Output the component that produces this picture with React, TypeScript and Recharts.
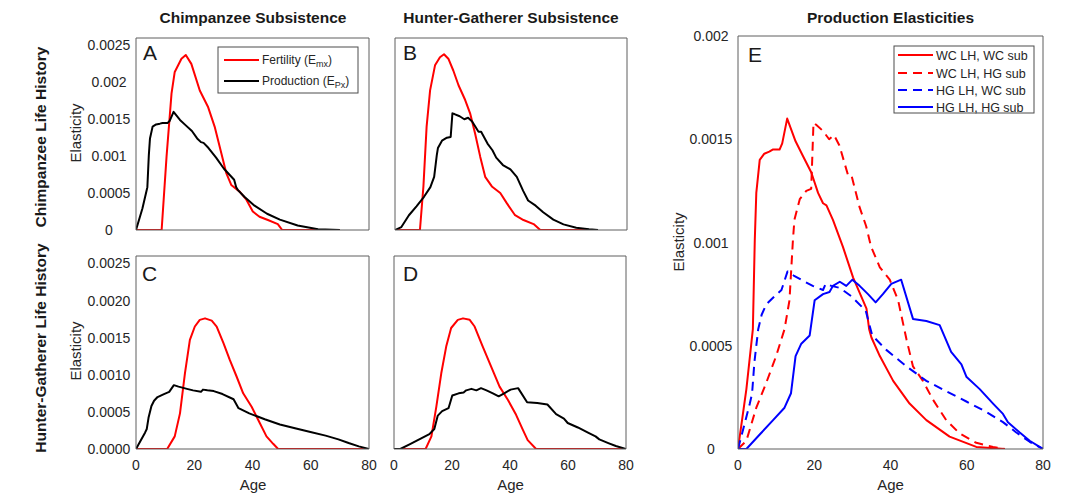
import React from 'react';
import { LineChart, Line, XAxis, YAxis } from 'recharts';

const FONT = '"Liberation Sans", Arial, Helvetica, sans-serif';
const AXIS_COLOR = '#5f5f5f';
const TEXT_COLOR = '#262626';
const RED = '#ff0000';
const BLUE = '#0000ff';
const BLACK = '#000000';

// ---------- tick values & labels ----------
const ageTicks = [0, 20, 40, 60, 80];
const ageTickLabels = ['0', '20', '40', '60', '80'];
const smallYTicks = [0, 0.0005, 0.001, 0.0015, 0.002, 0.0025];
const chimpRowYLabels = ['0', '0.0005', '0.001', '0.0015', '0.002', '0.0025'];
const hgRowYLabels = ['0.0000', '0.0005', '0.0010', '0.0015', '0.0020', '0.0025'];
const bigYTicks = [0, 0.0005, 0.001, 0.0015, 0.002];
const bigYLabels = ['0', '0.0005', '0.001', '0.0015', '0.002'];

// ---------- fertility elasticities (E_mx) ----------
// Chimpanzee life history, chimpanzee subsistence (A)
const fertChimpChimpAge = [0, 8.8, 10.5, 12.2, 13.3, 15.6, 17.1, 19.0, 21.9, 24.7, 27.0, 29.3, 31.0, 32.7, 35.6, 37.9, 40.1, 42.4, 45.3, 48.7, 50.2, 70];
const fertChimpChimpVal = [0, 0, 0.001, 0.00185, 0.00214, 0.00232, 0.00237, 0.00225, 0.00189, 0.00167, 0.0014, 0.00104, 0.00077, 0.00061, 0.00052, 0.00041, 0.00025, 0.00018, 0.000135, 0.00008, 0, 0];
// Chimpanzee life history, hunter-gatherer subsistence (B)
const fertChimpHgAge = [0, 8.6, 9.8, 10.9, 12.1, 13.8, 15.5, 16.9, 18.4, 20.1, 21.9, 24.2, 25.9, 27.6, 29.4, 31.1, 33.4, 36.3, 38.6, 41.4, 44.3, 47.8, 50.1, 70];
const fertChimpHgVal = [0, 0, 0.00059, 0.0014, 0.00189, 0.00223, 0.00234, 0.00238, 0.00232, 0.00216, 0.00196, 0.00176, 0.00158, 0.00131, 0.00099, 0.00072, 0.00059, 0.0005, 0.00036, 0.0002, 0.000135, 0.00008, 0, 0];
// Hunter-gatherer life history, chimpanzee subsistence (C)
const fertHgChimpAge = [0, 10.7, 13.3, 15.1, 16.8, 18.5, 20.2, 21.9, 23.7, 26.0, 27.7, 30.0, 32.2, 34.5, 36.8, 39.7, 42.5, 44.8, 47.1, 48.8, 80];
const fertHgChimpVal = [0, 0, 0.00017, 0.00048, 0.00102, 0.00147, 0.00165, 0.00174, 0.00176, 0.00173, 0.00165, 0.00143, 0.0012, 0.00098, 0.00075, 0.00057, 0.00035, 0.00017, 0.00007, 0, 0];
// Hunter-gatherer life history, hunter-gatherer subsistence (D)
const fertHgHgAge = [0, 10.9, 12.9, 14.6, 16.3, 18.0, 19.7, 22.0, 23.8, 26.1, 27.8, 30.6, 33.5, 36.4, 39.3, 42.1, 44.4, 46.1, 49.0, 80];
const fertHgHgVal = [0, 0, 0.00017, 0.00057, 0.00102, 0.00138, 0.00163, 0.00174, 0.00176, 0.00174, 0.00165, 0.00138, 0.00111, 0.00084, 0.00066, 0.00046, 0.00026, 0.00012, 0, 0];

// ---------- production elasticities (E_Px) ----------
// WC LH, WC sub
const prodChimpChimpAge = [0, 2.2, 3.9, 4.4, 4.8, 5.7, 6.9, 8.2, 9.1, 10.9, 11.6, 12.9, 15.1, 17.0, 19.2, 21.0, 22.3, 23.2, 24.9, 27.5, 30.2, 33.7, 34.4, 35.0, 37.2, 40.7, 45.0, 49.4, 55.5, 62.5, 70];
const prodChimpChimpVal = [0, 0.00029, 0.00058, 0.00101, 0.00124, 0.0014, 0.00143, 0.00144, 0.00145, 0.00145, 0.00148, 0.0016, 0.00149, 0.00142, 0.00134, 0.00124, 0.00119, 0.00118, 0.00111, 0.00098, 0.00083, 0.00068, 0.00058, 0.00054, 0.00045, 0.00033, 0.00022, 0.00014, 0.00006, 0.00001, 0];
// WC LH, HG sub
const prodChimpHgAge = [0, 2.2, 4.8, 7.4, 10.0, 12.2, 13.5, 14.4, 14.8, 16.2, 17.9, 19.2, 19.8, 20.5, 22.3, 23.9, 25.2, 26.6, 28.8, 29.7, 31.9, 33.6, 34.9, 37.2, 39.8, 42.0, 44.2, 45.9, 48.5, 51.1, 54.6, 58.1, 62.5, 66.9, 70];
const prodChimpHgVal = [0, 0.00004, 0.0002, 0.00032, 0.00045, 0.00058, 0.00072, 0.00101, 0.00111, 0.00121, 0.00125, 0.00126, 0.00158, 0.00157, 0.00154, 0.0015, 0.00152, 0.00147, 0.00133, 0.00133, 0.00117, 0.00108, 0.00098, 0.00088, 0.00082, 0.00072, 0.00053, 0.0004, 0.00033, 0.00024, 0.00014, 0.000076, 0.00003, 0.00001, 0];
// HG LH, WC sub
const prodHgChimpAge = [0, 1.0, 3.1, 3.7, 4.3, 5.3, 6.2, 7.4, 9.6, 11.4, 13.0, 14.6, 17.5, 19.6, 22.3, 23.0, 24.5, 26.7, 29.7, 33.5, 35.2, 38.9, 44.2, 49.4, 54.6, 59.9, 65.1, 69.5, 73.0, 76.5, 80];
const prodHgChimpVal = [0, 0.00007, 0.00022, 0.00027, 0.00042, 0.00058, 0.00065, 0.0007, 0.00074, 0.00077, 0.00086, 0.00084, 0.00081, 0.00079, 0.00077, 0.0008, 0.00079, 0.00078, 0.00074, 0.00067, 0.00055, 0.00048, 0.0004, 0.00033, 0.00028, 0.00023, 0.00018, 0.00013, 0.00008, 0.000035, 0];
// HG LH, HG sub
const prodHgHgAge = [0, 2.2, 5.7, 9.2, 12.2, 13.9, 15.1, 16.6, 18.8, 20.1, 22.3, 24.0, 24.9, 26.7, 28.4, 30.0, 31.9, 34.1, 36.1, 38.0, 40.2, 42.8, 45.9, 49.4, 52.9, 55.9, 58.6, 59.9, 63.4, 66.9, 69.5, 70.8, 73.9, 76.5, 80];
const prodHgHgVal = [0, 0, 0.00007, 0.00014, 0.0002, 0.00027, 0.00045, 0.00051, 0.00055, 0.00072, 0.00075, 0.00076, 0.00079, 0.00081, 0.00079, 0.00082, 0.00079, 0.00075, 0.00071, 0.00075, 0.0008, 0.00082, 0.00063, 0.00062, 0.0006, 0.00047, 0.00041, 0.00035, 0.00029, 0.00022, 0.00017, 0.00013, 0.00008, 0.00004, 0];

type SeriesDef = { name: string; ages: number[]; vals: number[]; color: string; dashed?: boolean };

const toPoints = (ages: number[], vals: number[]) => ages.map((a, i) => ({ age: a, v: vals[i] }));

const YW = 60;
const XH = 30;
const PAD = 12;
const RPAD = 16;

type PanelProps = {
  left: number;
  top: number;
  w: number;
  h: number;
  yMax: number;
  yTicks: number[];
  yLabels?: string[];
  xLabels?: boolean;
  series: SeriesDef[];
};

function Panel({ left, top, w, h, yMax, yTicks, yLabels, xLabels, series }: PanelProps) {
  const W = YW + w + RPAD;
  const H = PAD + h + XH;
  const renderYTick = (props: any) => {
    const i = yTicks.findIndex((t) => Math.abs(t - props.payload.value) < 1e-12);
    return (
      <text x={props.x} y={props.y} dy="0.36em" textAnchor="middle" fontSize={14} fill={TEXT_COLOR} fontFamily={FONT}>
        {yLabels ? yLabels[i] : ''}
      </text>
    );
  };
  const renderXTick = (props: any) => {
    const i = ageTicks.indexOf(props.payload.value);
    return (
      <text x={props.x} y={props.y} dy="0.71em" textAnchor="middle" fontSize={14} fill={TEXT_COLOR} fontFamily={FONT}>
        {ageTickLabels[i]}
      </text>
    );
  };
  const line = { stroke: AXIS_COLOR, strokeWidth: 1 };
  return (
    <div style={{ position: 'absolute', left: left - YW, top: top - PAD, width: W, height: H }}>
      <LineChart width={W} height={H} margin={{ top: PAD, right: RPAD, bottom: 0, left: 0 }} style={{ overflow: 'visible' }}>
        <XAxis
          xAxisId="x"
          type="number"
          dataKey="age"
          domain={[0, 80]}
          ticks={ageTicks}
          interval={0}
          height={XH}
          axisLine={false}
          tickLine={false}
          tickSize={9}
          tickMargin={2}
          tick={xLabels ? renderXTick : false}
          allowDataOverflow
        />
        <XAxis xAxisId="xIn" type="number" dataKey="age" domain={[0, 80]} ticks={ageTicks} interval={0} orientation="bottom" mirror axisLine={line} tickLine={line} tick={false} tickSize={3} allowDataOverflow />
        <XAxis xAxisId="xTop" type="number" dataKey="age" domain={[0, 80]} ticks={ageTicks} interval={0} orientation="top" mirror axisLine={line} tickLine={line} tick={false} tickSize={3} allowDataOverflow />
        <YAxis
          yAxisId="y"
          type="number"
          domain={[0, yMax]}
          ticks={yTicks}
          interval={0}
          width={YW}
          axisLine={false}
          tickLine={false}
          tickSize={25}
          tickMargin={2}
          tick={yLabels ? renderYTick : false}
          allowDataOverflow
        />
        <YAxis yAxisId="yIn" type="number" domain={[0, yMax]} ticks={yTicks} interval={0} orientation="left" mirror axisLine={line} tickLine={line} tick={false} tickSize={3} allowDataOverflow />
        <YAxis yAxisId="yRight" type="number" domain={[0, yMax]} ticks={yTicks} interval={0} orientation="right" mirror axisLine={line} tickLine={line} tick={false} tickSize={3} allowDataOverflow />
        {series.map((s) => (
          <Line
            key={s.name}
            name={s.name}
            xAxisId="x"
            yAxisId="y"
            data={toPoints(s.ages, s.vals)}
            dataKey="v"
            type="linear"
            stroke={s.color}
            strokeWidth={2}
            strokeDasharray={s.dashed ? '9 6' : undefined}
            strokeLinejoin="round"
            dot={false}
            activeDot={false}
            isAnimationActive={false}
          />
        ))}
      </LineChart>
    </div>
  );
}

export default function App() {
  const fertA: SeriesDef = { name: 'Fertility (E_mx)', ages: fertChimpChimpAge, vals: fertChimpChimpVal, color: RED };
  const prodA: SeriesDef = { name: 'Production (E_Px)', ages: prodChimpChimpAge, vals: prodChimpChimpVal, color: BLACK };
  const fertB: SeriesDef = { name: 'Fertility B', ages: fertChimpHgAge, vals: fertChimpHgVal, color: RED };
  const prodB: SeriesDef = { name: 'Production B', ages: prodChimpHgAge, vals: prodChimpHgVal, color: BLACK };
  const fertC: SeriesDef = { name: 'Fertility C', ages: fertHgChimpAge, vals: fertHgChimpVal, color: RED };
  const prodC: SeriesDef = { name: 'Production C', ages: prodHgChimpAge, vals: prodHgChimpVal, color: BLACK };
  const fertD: SeriesDef = { name: 'Fertility D', ages: fertHgHgAge, vals: fertHgHgVal, color: RED };
  const prodD: SeriesDef = { name: 'Production D', ages: prodHgHgAge, vals: prodHgHgVal, color: BLACK };
  const eSeries: SeriesDef[] = [
    { name: 'WC LH, WC sub', ages: prodChimpChimpAge, vals: prodChimpChimpVal, color: RED },
    { name: 'WC LH, HG sub', ages: prodChimpHgAge, vals: prodChimpHgVal, color: RED, dashed: true },
    { name: 'HG LH, WC sub', ages: prodHgChimpAge, vals: prodHgChimpVal, color: BLUE, dashed: true },
    { name: 'HG LH, HG sub', ages: prodHgHgAge, vals: prodHgHgVal, color: BLUE },
  ];
  const eLegendY = [55, 73, 90, 107];

  const titleStyle = { fontFamily: FONT, fontSize: 15.5, fontWeight: 700, fill: '#1a1a1a' } as const;
  const labelStyle = { fontFamily: FONT, fontSize: 15, fill: TEXT_COLOR } as const;
  const letterStyle = { fontFamily: FONT, fontSize: 21, fill: '#1a1a1a' } as const;

  return (
    <div style={{ position: 'absolute', left: 0, top: 0, width: 1080, height: 497, background: '#ffffff', overflow: 'hidden' }}>
      <Panel left={136} top={38} w={233} h={192} yMax={0.0026} yTicks={smallYTicks} yLabels={chimpRowYLabels} series={[fertA, prodA]} />
      <Panel left={395} top={38} w={232} h={192} yMax={0.0026} yTicks={smallYTicks} series={[fertB, prodB]} />
      <Panel left={136} top={256} w={233} h={193} yMax={0.0026} yTicks={smallYTicks} yLabels={hgRowYLabels} xLabels series={[fertC, prodC]} />
      <Panel left={394} top={256} w={232} h={193} yMax={0.0026} yTicks={smallYTicks} xLabels series={[fertD, prodD]} />
      <Panel left={738} top={36} w={305} h={413} yMax={0.002} yTicks={bigYTicks} yLabels={bigYLabels} xLabels series={eSeries} />

      <svg width={1080} height={497} style={{ position: 'absolute', left: 0, top: 0, pointerEvents: 'none' }}>
        {/* column titles */}
        <text x={253} y={22.5} textAnchor="middle" {...titleStyle}>Chimpanzee Subsistence</text>
        <text x={511} y={22.5} textAnchor="middle" {...titleStyle}>Hunter-Gatherer Subsistence</text>
        <text x={890.5} y={22.5} textAnchor="middle" {...titleStyle}>Production Elasticities</text>
        {/* row titles */}
        <text x={46} y={137} textAnchor="middle" transform="rotate(-90 46 137)" {...titleStyle}>Chimpanzee Life History</text>
        <text x={46} y={348} textAnchor="middle" transform="rotate(-90 46 348)" {...titleStyle}>Hunter-Gatherer Life History</text>
        {/* axis labels */}
        <text x={81} y={133} textAnchor="middle" transform="rotate(-90 81 133)" {...labelStyle}>Elasticity</text>
        <text x={81} y={351} textAnchor="middle" transform="rotate(-90 81 351)" {...labelStyle}>Elasticity</text>
        <text x={684} y={242} textAnchor="middle" transform="rotate(-90 684 242)" {...labelStyle}>Elasticity</text>
        <text x={253} y={490} textAnchor="middle" {...labelStyle}>Age</text>
        <text x={510.5} y={490} textAnchor="middle" {...labelStyle}>Age</text>
        <text x={890.5} y={490} textAnchor="middle" {...labelStyle}>Age</text>
        {/* panel letters */}
        <text x={143} y={60} {...letterStyle}>A</text>
        <text x={403} y={60} {...letterStyle}>B</text>
        <text x={142} y={280.5} {...letterStyle}>C</text>
        <text x={403} y={280.5} {...letterStyle}>D</text>
        <text x={748} y={61.5} {...letterStyle}>E</text>

        {/* legend A */}
        <rect x={218} y={47} width={140} height={46} fill="#ffffff" stroke="#4d4d4d" strokeWidth={1} />
        <line x1={224} x2={259} y1={60} y2={60} stroke={RED} strokeWidth={2} />
        <text x={262} y={64.3} fontFamily={FONT} fontSize={12} fill={TEXT_COLOR}>
          Fertility (E<tspan fontSize={9} dy={3}>mx</tspan><tspan dy={-3}>)</tspan>
        </text>
        <line x1={224} x2={259} y1={81} y2={81} stroke={BLACK} strokeWidth={2} />
        <text x={262} y={85.3} fontFamily={FONT} fontSize={12} fill={TEXT_COLOR}>
          Production (E<tspan fontSize={9} dy={3}>Px</tspan><tspan dy={-3}>)</tspan>
        </text>

        {/* legend E */}
        <rect x={894} y={46} width={140} height={67} fill="#ffffff" stroke="#4d4d4d" strokeWidth={1} />
        {eSeries.map((s, i) => (
          <g key={s.name}>
            <line x1={898} x2={933} y1={eLegendY[i]} y2={eLegendY[i]} stroke={s.color} strokeWidth={2} strokeDasharray={s.dashed ? '9 6' : undefined} />
            <text x={936} y={eLegendY[i] + 4.5} fontFamily={FONT} fontSize={12.5} fill={TEXT_COLOR}>{s.name}</text>
          </g>
        ))}
      </svg>
    </div>
  );
}
